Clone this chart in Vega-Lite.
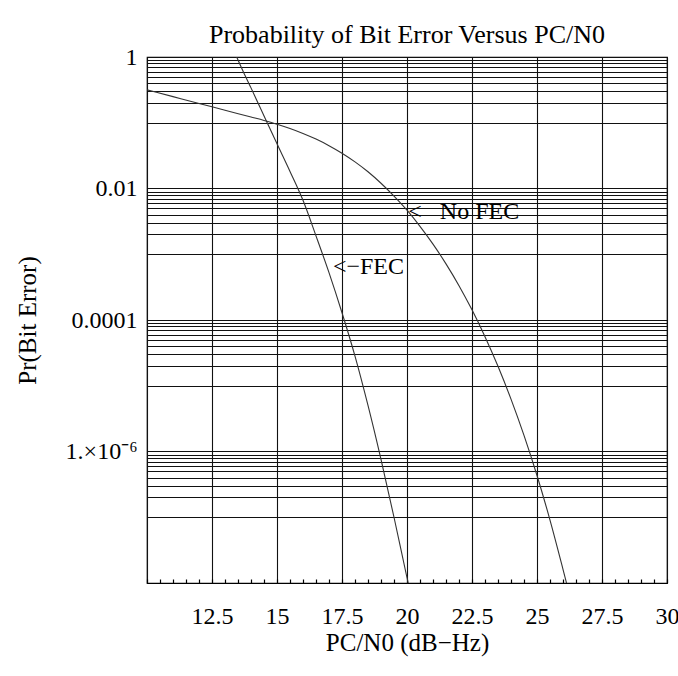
{
  "$schema": "https://vega.github.io/schema/vega-lite/v6.json",
  "width": 520,
  "height": 526,
  "autosize": "none",
  "padding": {"left": 147, "top": 57, "right": 11, "bottom": 93},
  "background": "white",
  "title": {
    "text": "Probability of Bit Error Versus PC/N0",
    "font": "Liberation Serif",
    "fontSize": 26,
    "fontWeight": "normal",
    "color": "black",
    "anchor": "middle",
    "frame": "group",
    "baseline": "alphabetic",
    "offset": 14,
    "dy": 38
  },
  "config": {
    "view": {"stroke": "black", "strokeWidth": 1.2},
    "axis": {
      "labelFont": "Liberation Serif",
      "titleFont": "Liberation Serif",
      "labelFontSize": 24,
      "titleFontSize": 25,
      "titleFontWeight": "normal",
      "labelColor": "black",
      "titleColor": "black",
      "gridColor": "#111111",
      "gridWidth": 1.1,
      "domain": false
    }
  },
  "datasets": {
    "curves": [
      {"x": 10, "p": 0.3162, "s": "NoFEC"},
      {"x": 11, "p": 0.2495, "s": "NoFEC"},
      {"x": 12, "p": 0.1968, "s": "NoFEC"},
      {"x": 13, "p": 0.1549, "s": "NoFEC"},
      {"x": 14, "p": 0.1222, "s": "NoFEC"},
      {"x": 14.5, "p": 0.1084, "s": "NoFEC"},
      {"x": 15, "p": 0.0951, "s": "NoFEC"},
      {"x": 15.5, "p": 0.0818, "s": "NoFEC"},
      {"x": 16, "p": 0.0687, "s": "NoFEC"},
      {"x": 16.5, "p": 0.0564, "s": "NoFEC"},
      {"x": 17, "p": 0.0448, "s": "NoFEC"},
      {"x": 17.5, "p": 0.0344, "s": "NoFEC"},
      {"x": 18, "p": 0.0254, "s": "NoFEC"},
      {"x": 18.5, "p": 0.01795, "s": "NoFEC"},
      {"x": 19, "p": 0.01202, "s": "NoFEC"},
      {"x": 19.5, "p": 0.00767, "s": "NoFEC"},
      {"x": 20, "p": 0.00468, "s": "NoFEC"},
      {"x": 20.5, "p": 0.00266, "s": "NoFEC"},
      {"x": 21, "p": 0.001426, "s": "NoFEC"},
      {"x": 21.5, "p": 0.000714, "s": "NoFEC"},
      {"x": 22, "p": 0.000333, "s": "NoFEC"},
      {"x": 22.5, "p": 0.0001426, "s": "NoFEC"},
      {"x": 23, "p": 0.0000558, "s": "NoFEC"},
      {"x": 23.5, "p": 0.00001977, "s": "NoFEC"},
      {"x": 24, "p": 0.00000627, "s": "NoFEC"},
      {"x": 24.5, "p": 0.000001758, "s": "NoFEC"},
      {"x": 25, "p": 0.000000431, "s": "NoFEC"},
      {"x": 25.5, "p": 0.0000000906, "s": "NoFEC"},
      {"x": 26, "p": 0.00000001614, "s": "NoFEC"},
      {"x": 26.2, "p": 0.00000000794, "s": "NoFEC"},
      {"x": 13.45, "p": 1, "s": "FEC"},
      {"x": 13.7, "p": 0.603, "s": "FEC"},
      {"x": 14.0, "p": 0.339, "s": "FEC"},
      {"x": 14.6, "p": 0.1047, "s": "FEC"},
      {"x": 15.0, "p": 0.0479, "s": "FEC"},
      {"x": 15.5, "p": 0.0182, "s": "FEC"},
      {"x": 16.0, "p": 0.00661, "s": "FEC"},
      {"x": 16.5, "p": 0.001905, "s": "FEC"},
      {"x": 17.0, "p": 0.000525, "s": "FEC"},
      {"x": 17.5, "p": 0.0001288, "s": "FEC"},
      {"x": 18.0, "p": 0.0000282, "s": "FEC"},
      {"x": 18.5, "p": 0.00000501, "s": "FEC"},
      {"x": 19.0, "p": 0.000000759, "s": "FEC"},
      {"x": 19.5, "p": 0.0000001, "s": "FEC"},
      {"x": 20.0, "p": 0.00000001202, "s": "FEC"},
      {"x": 20.1, "p": 0.00000000794, "s": "FEC"}
    ],
    "labels": [
      {"x": 20.05, "p": 0.0044, "t": "<\u00a0\u00a0\u00a0No FEC"},
      {"x": 17.15, "p": 0.00064, "t": "<−FEC"}
    ]
  },
  "encoding": {
    "x": {
      "field": "x", "type": "quantitative",
      "scale": {"domain": [10, 30], "nice": false, "zero": false},
      "axis": {
        "title": "PC/N0 (dB−Hz)",
        "format": "~g",
        "values": [10, 10.5, 11, 11.5, 12, 12.5, 13, 13.5, 14, 14.5, 15, 15.5, 16, 16.5, 17, 17.5, 18, 18.5, 19, 19.5, 20, 20.5, 21, 21.5, 22, 22.5, 23, 23.5, 24, 24.5, 25, 25.5, 26, 26.5, 27, 27.5, 28, 28.5, 29, 29.5, 30],
        "labelExpr": "(datum.value % 2.5 == 0 && datum.value > 10) ? datum.label : ''",
        "labelOverlap": false,
        "labelFlush": false,
        "labelBound": false,
        "tickSize": -4,
        "tickColor": "black",
        "tickWidth": 1.2,
        "labelPadding": 44,
        "labelBaseline": "alphabetic",
        "gridOpacity": {"condition": {"test": "datum.value % 2.5 == 0", "value": 1}, "value": 0},
        "titleX": 260,
        "titleY": 67,
        "titleBaseline": "alphabetic",
        "titleAnchor": "middle"
      }
    },
    "y": {
      "field": "p", "type": "quantitative",
      "scale": {"type": "log", "domain": [0.00000001, 1], "nice": false},
      "axis": {
        "title": "Pr(Bit Error)",
        "values": [1, 0.9, 0.8, 0.7, 0.6, 0.5, 0.4, 0.3, 0.2, 0.1, 0.01, 0.009, 0.008, 0.007, 0.006, 0.005, 0.004, 0.003, 0.002, 0.001, 0.0001, 0.00009, 0.00008, 0.00007, 0.00006, 0.00005, 0.00004, 0.00003, 0.00002, 0.00001, 0.000001, 0.0000009, 0.0000008, 0.0000007, 0.0000006, 0.0000005, 0.0000004, 0.0000003, 0.0000002, 0.0000001],
        "labelExpr": "datum.value == 1 ? '1' : datum.value == 0.01 ? '0.01' : datum.value == 0.0001 ? '0.0001' : datum.value == 0.000001 ? '1.×10⁻⁶' : ''",
        "labelOverlap": false,
        "labelFlush": false,
        "labelBound": false,
        "ticks": false,
        "labelPadding": 10,
        "labelBaseline": "middle",
        "titleX": -120,
        "titleY": 263,
        "titleAngle": -90,
        "titleAlign": "center",
        "titleBaseline": "middle"
      }
    }
  },
  "layer": [
    {
      "data": {"name": "curves"},
      "mark": {"type": "line", "clip": true, "strokeWidth": 1.1, "color": "#333333", "interpolate": "monotone"},
      "encoding": {"detail": {"field": "s"}}
    },
    {
      "data": {"name": "labels"},
      "mark": {"type": "text", "align": "left", "baseline": "middle", "font": "Liberation Serif", "fontSize": 24, "color": "black"},
      "encoding": {"text": {"field": "t"}}
    }
  ]
}
